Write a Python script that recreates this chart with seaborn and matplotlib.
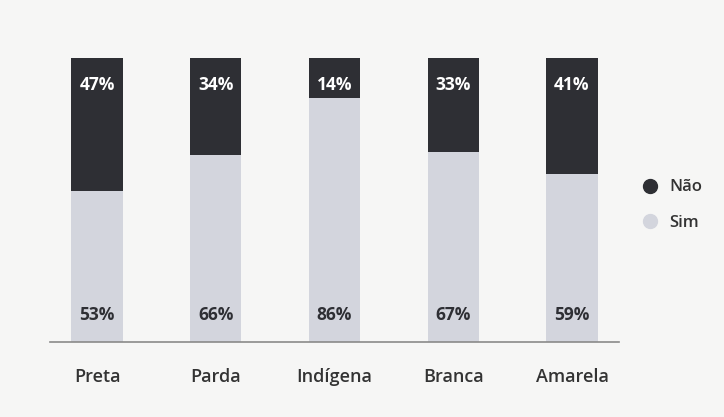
import pandas as pd
import seaborn as sns
import matplotlib.pyplot as plt
from matplotlib.lines import Line2D

# Data
categorias = ['Preta', 'Parda', 'Indígena', 'Branca', 'Amarela']
sim = [53, 66, 86, 67, 59]
nao = [47, 34, 14, 33, 41]

DARK = '#2e2f34'
LIGHT = '#d3d5dd'
BG = '#f6f6f5'

sns.set_theme(style="white")
plt.rcParams['font.family'] = ['Open Sans', 'DejaVu Sans']

df = pd.DataFrame({'cat': categorias, 'sim': sim, 'nao': nao})
df['total'] = df['sim'] + df['nao']

fig = plt.figure(figsize=(7.24, 4.17), dpi=100, facecolor=BG)
ax = fig.add_axes([50 / 724, 75 / 417, 569 / 724, 284 / 417])
ax.set_facecolor(BG)

# stacked: full bar dark (Não on top), Sim light drawn over it
sns.barplot(data=df, x='cat', y='total', color=DARK, width=0.43,
            saturation=1, ax=ax, linewidth=0)
sns.barplot(data=df, x='cat', y='sim', color=LIGHT, width=0.43,
            saturation=1, ax=ax, linewidth=0)

ax.set_xlim(-0.396, 4.396)
ax.set_ylim(0, 100)
ax.set_xlabel('')
ax.set_ylabel('')
ax.set_yticks([])
for s in ['top', 'left', 'right']:
    ax.spines[s].set_visible(False)
ax.spines['bottom'].set_color('#8a8a8a')
ax.spines['bottom'].set_linewidth(1.2)
ax.tick_params(axis='x', length=0, pad=19, labelsize=13, labelcolor='#333333')
for lab in ax.get_xticklabels():
    lab.set_fontweight('semibold')

for i, (s, n) in enumerate(zip(sim, nao)):
    ax.text(i, 100 - 9.5, f'{n}%', ha='center', va='center', color='white',
            fontsize=12.5, fontweight='bold')
    ax.text(i, 9.5, f'{s}%', ha='center', va='center', color='#2e2f34',
            fontsize=12.5, fontweight='bold')

handles = [Line2D([], [], marker='o', linestyle='', markersize=10,
                  markerfacecolor=DARK, markeredgecolor=DARK, label='Não'),
           Line2D([], [], marker='o', linestyle='', markersize=10,
                  markerfacecolor=LIGHT, markeredgecolor=LIGHT, label='Sim')]
leg = fig.legend(handles=handles, loc='center left', bbox_to_anchor=(618 / 724, 1 - 205 / 417),
                 frameon=False, fontsize=12, handletextpad=0.2, labelspacing=1.15)
for t in leg.get_texts():
    t.set_fontweight('semibold')
    t.set_color('#333333')

fig.savefig('out.png', dpi=100, facecolor=BG)
